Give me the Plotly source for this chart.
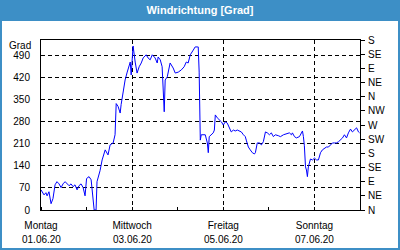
import pandas as pd
import plotly.graph_objects as go

# hours since 01.06.20 00:00
hours = [0, 0.5, 1.6, 2.6, 3.2, 4.2, 5.3, 6.3, 7.4, 8.4, 9.5, 10.6, 11.6, 12.7, 13.7, 14.8,
         15.8, 16.9, 17.9, 19.0, 20.0, 21.1, 22.2, 23.2, 24.0, 25.3, 26.4, 26.9, 27.4, 28.0,
         29.0, 29.5, 31.1, 32.2, 33.8, 35.3, 36.4, 38.0, 39.0, 39.6, 40.6, 41.7, 42.2, 43.3,
         44.3, 45.4, 46.4, 47.0, 47.5, 48.0, 48.5, 49.6, 50.6, 51.7, 52.8, 53.8, 55.4, 56.4,
         57.5, 58.6, 60.1, 61.2, 61.7, 62.8, 63.8, 64.9, 65.4, 66.5, 68.0, 69.6, 70.7, 72.3,
         73.9, 75.4, 76.5, 77.5, 78.6, 80.2, 81.2, 82.3, 82.8, 83.3, 83.9, 84.4, 85.5, 86.5,
         87.6, 88.1, 88.6, 89.7, 90.7, 91.3, 91.8, 92.8, 93.9, 95.0, 96.0, 97.1, 98.1, 99.2,
         100.2, 101.3, 102.3, 103.4, 104.4, 105.5, 106.6, 107.6, 108.1, 108.7, 109.2, 110.2,
         111.3, 112.4, 112.9, 113.9, 115.0, 116.1, 117.1, 118.2, 119.2, 120.3, 121.3, 122.4,
         123.4, 125.0, 126.1, 127.7, 129.2, 130.8, 131.9, 132.4, 133.5, 134.5, 136.1, 137.7,
         138.2, 138.7, 139.3, 139.8, 140.3, 140.8, 141.9, 143.0, 144.0, 145.1, 146.1, 147.2,
         148.2, 149.3, 150.3, 151.4, 152.4, 153.5, 154.6, 155.6, 156.7, 157.7, 158.8, 159.8,
         160.9, 161.9, 163.0, 164.0, 165.1, 166.2, 167.2, 167.8]
degrees = [64, 58, 48, 55, 45, 58, 20, 36, 80, 90, 83, 71, 83, 90, 83, 77,
           83, 74, 80, 64, 77, 83, 71, 45, 100, 106, 96, 70, 48, 0,
           0, 90, 125, 159, 191, 175, 207, 213, 239, 338, 329, 308, 335, 381,
           413, 438, 461, 470, 429, 483, 521, 470, 435, 455, 467, 483, 493, 483,
           477, 493, 483, 467, 486, 477, 455, 312, 413, 423, 467, 451, 435, 438,
           445, 455, 470, 467, 493, 508, 518, 518, 518, 438, 222, 239, 239, 239,
           213, 182, 233, 239, 245, 254, 302, 293, 286, 280, 270, 280, 276, 261,
           248, 254, 251, 254, 251, 248, 239, 233, 222, 207, 200, 191,
           182, 178, 182, 213, 213, 207, 217, 248, 245, 239, 245, 233,
           239, 236, 233, 239, 242, 245, 239, 245, 233, 229, 233, 251,
           233, 204, 137, 127, 106, 137, 162, 159, 165, 159, 159, 182,
           191, 197, 200, 200, 207, 213, 213, 213, 217, 222, 229, 239,
           229, 245, 257, 248, 254, 261, 248, 245]

x_tick_dates = ["2020-06-01", "2020-06-03", "2020-06-05", "2020-06-07"]
x_tick_days = ["Montag", "Mittwoch", "Freitag", "Sonntag"]
x_tick_labels = ["01.06.20", "03.06.20", "05.06.20", "07.06.20"]
left_ticks = [0, 70, 140, 210, 280, 350, 420, 490]
right_ticks = [0, 45, 90, 135, 180, 225, 270, 315, 360, 405, 450, 495, 540]
right_labels = ["N", "NE", "E", "SE", "S", "SW", "W", "NW", "N", "NE", "E", "SE", "S"]

times = pd.Timestamp("2020-06-01") + pd.to_timedelta(hours, unit="h")

FONT = "Liberation Sans"
FS = 10
W, H = 400, 250
ml, mr, mt, mb = 41, 40, 40, 40
pw, ph = W - ml - mr, H - mt - mb

fig = go.Figure()
fig.add_trace(go.Scatter(x=times, y=degrees, mode="lines",
                         line=dict(color="#0000ff", width=1), showlegend=False))
fig.add_trace(go.Scatter(x=[times[0]], y=[0], yaxis="y2", mode="markers",
                         marker=dict(opacity=0), showlegend=False, hoverinfo="skip"))

annotations = [
    dict(text="Grad", xref="paper", yref="paper", x=-8 / pw, y=1 - 5 / ph,
         xanchor="right", yanchor="middle", showarrow=False,
         font=dict(family=FONT, size=FS, color="black")),
]
for d, lab in zip(x_tick_dates, x_tick_labels):
    annotations.append(dict(text=lab, xref="x", yref="paper", x=d, y=-(239 - (H - mb)) / ph,
                            xanchor="center", yanchor="middle", showarrow=False,
                            font=dict(family=FONT, size=FS, color="black")))

fig.update_layout(
    width=W, height=H,
    margin=dict(l=ml, r=mr, t=mt, b=mb),
    paper_bgcolor="white", plot_bgcolor="white",
    font=dict(family=FONT, size=FS, color="black"),
    title=dict(text="<b>Windrichtung [Grad]</b>", x=0.5, xanchor="center",
               y=1 - 10 / H, yanchor="middle", yref="container",
               font=dict(family=FONT, size=11, color="white")),
    xaxis=dict(
        type="date", range=["2020-06-01", "2020-06-08"],
        tickvals=x_tick_dates, ticktext=x_tick_days,
        showgrid=True, gridcolor="black", griddash="4px,3px", gridwidth=1,
        showline=True, linecolor="black", linewidth=1, mirror=True,
        ticks="", ticklabelstandoff=6,
        minor=dict(dtick=86400000, ticks="inside", ticklen=3, tickcolor="black", showgrid=False),
        zeroline=False,
    ),
    yaxis=dict(
        range=[0, 540], tickvals=left_ticks,
        showgrid=True, gridcolor="black", griddash="4px,3px", gridwidth=1,
        showline=True, linecolor="black", linewidth=1, mirror=True,
        ticks="", ticklabelstandoff=8, zeroline=False,
    ),
    yaxis2=dict(
        range=[0, 540], tickvals=right_ticks, ticktext=right_labels,
        overlaying="y", side="right", showgrid=False, zeroline=False,
        showline=True, linecolor="black", linewidth=1,
        ticks="outside", ticklen=4, tickcolor="black", ticklabelstandoff=1,
    ),
    shapes=[
        dict(type="rect", xref="paper", yref="paper",
             x0=-ml / pw, x1=1 + mr / pw, y0=1 + (mt - 21) / ph, y1=1 + mt / ph,
             fillcolor="#3d8fc6", line=dict(width=0), layer="below"),
        dict(type="rect", xref="paper", yref="paper",
             x0=-(ml - 1) / pw, x1=1 + (mr - 1) / pw, y0=-(mb - 1) / ph, y1=1 + (mt - 1) / ph,
             fillcolor="rgba(0,0,0,0)", line=dict(width=2, color="#3d8fc6"), layer="above"),
    ],
    annotations=annotations,
)

fig.write_html("out.html")
